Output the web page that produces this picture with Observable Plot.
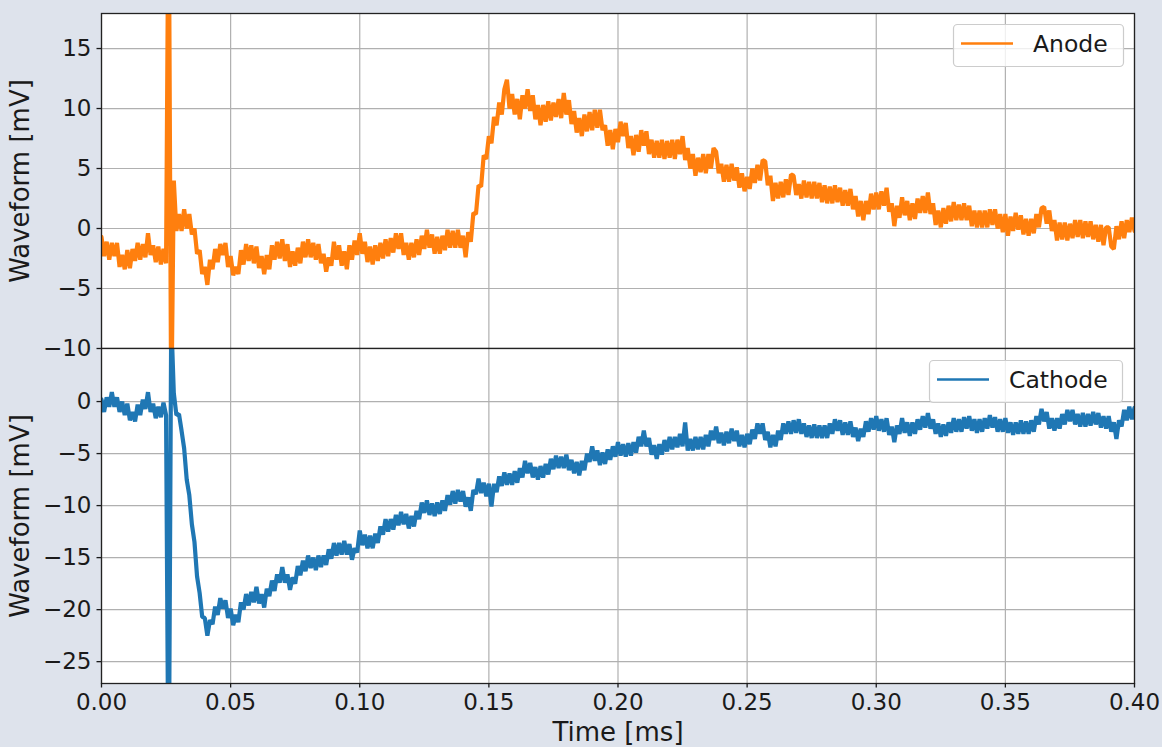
<!DOCTYPE html>
<html>
<head>
<meta charset="utf-8">
<script src="https://cdn.jsdelivr.net/npm/d3@7"></script>
<script src="https://cdn.jsdelivr.net/npm/@observablehq/plot@0.6"></script>
<style>
  html, body { margin: 0; padding: 0; background: #dee3ec; }
  #fig { position: relative; width: 1162px; height: 747px; background: #dee3ec; overflow: hidden; font-family: "DejaVu Sans", sans-serif; }
  #fig > svg { position: absolute; left: 0; }
  g[aria-label="y-axis label"] text, g[aria-label="x-axis label"] text { font-size: 26px; }
</style>
</head>
<body>
<div id="fig"></div>
<script>
// sample step (ms)
const dt = 0.001;

// Anode waveform (mV), one value per 0.001 ms from 0.000 to 0.400
const anode = [
  -0.7,-2.3,-1.1,-2.6,-1.2,-2.3,-1.2,-3.2,-2.2,-3.4,
  -1.8,-3.3,-1.7,-2.7,-1.2,-2.6,-1.3,-2.4,-0.4,-2.2,
  -1.4,-2.8,-1.5,-3.0,-1.7,-2.9,30,-16,4,-0.2,
  1.2,-0.2,1.6,0.0,1.2,-0.5,0.0,-2.1,-1.8,-3.8,
  -3.2,-4.7,-2.6,-3.4,-1.7,-2.8,-1.3,-2.2,-1.2,-3.2,
  -2.3,-3.9,-3.2,-3.8,-1.8,-3.0,-1.3,-2.7,-1.4,-2.9,
  -1.5,-3.3,-2.3,-3.8,-2.2,-3.4,-1.4,-2.6,-1.1,-2.5,
  -0.9,-2.7,-1.3,-3.2,-1.9,-3.1,-1.6,-2.9,-1.1,-2.4,
  -0.9,-2.4,-1.2,-2.6,-1.3,-2.9,-2.1,-3.6,-2.4,-3.1,
  -1.1,-2.6,-1.4,-3.1,-1.9,-3.4,-1.4,-2.6,-1.0,-2.2,
  -0.4,-2.1,-1.1,-2.8,-1.5,-3.0,-1.4,-2.7,-1.2,-2.5,
  -0.9,-2.3,-0.8,-2.0,-0.4,-1.7,-0.4,-2.2,-1.2,-2.6,
  -1.2,-2.4,-0.9,-2.2,-0.6,-1.7,-0.1,-1.6,-0.5,-2.1,
  -0.7,-2.1,-0.6,-1.8,-0.1,-1.6,-0.2,-1.6,-0.1,-1.6,
  -0.6,-2.4,-0.3,-1.1,1.3,1.2,3.6,3.5,6.1,5.8,
  7.7,7.1,9.3,8.6,10.5,9.5,11.6,12.4,10.0,11.2,
  9.5,10.8,9.1,11.1,10.0,11.6,9.8,11.1,9.1,10.3,
  8.6,10.3,8.9,10.6,9.0,10.5,9.3,10.8,9.2,11.3,
  9.5,10.7,8.7,9.8,8.0,9.2,7.7,9.5,8.1,9.7,
  8.2,9.9,8.4,9.9,8.2,8.6,6.9,8.2,6.6,8.3,
  7.2,8.9,7.7,8.8,6.7,7.7,6.1,7.8,6.4,8.2,
  6.9,8.1,6.2,7.4,5.9,7.3,5.9,7.4,5.8,7.3,
  5.9,7.4,5.8,7.4,6.2,7.7,5.7,6.7,5.0,6.2,
  4.4,5.9,4.7,6.2,4.6,6.2,5.0,6.7,6.4,4.6,
  5.4,3.9,5.3,3.9,5.4,4.0,5.1,3.4,4.6,3.1,
  4.3,3.3,5.0,3.8,5.3,4.0,5.7,5.6,3.6,4.4,
  2.3,3.8,2.5,3.9,2.6,4.1,2.8,4.5,4.4,2.8,
  3.7,2.5,4.0,2.6,3.9,2.5,3.9,2.5,3.8,2.2,
  3.6,2.1,3.5,2.1,3.6,2.2,3.4,1.9,3.2,1.9,
  3.3,1.6,2.7,1.0,2.3,0.7,2.3,1.2,2.9,1.6,
  3.0,1.6,3.1,1.9,3.4,1.4,2.1,0.2,1.9,0.9,
  2.6,1.1,2.3,0.7,2.1,0.8,2.5,1.3,2.7,1.3,
  3.0,1.2,2.1,0.3,1.5,0.1,1.7,0.4,1.9,0.6,
  2.2,0.7,2.0,0.7,2.1,0.7,1.9,0.2,1.5,0.1,
  1.5,0.1,1.5,0.1,1.6,0.3,1.6,0.0,1.2,-0.3,
  1.2,-0.6,1.0,-0.2,1.3,-0.1,1.1,-0.5,0.8,-0.6,
  0.8,-0.4,1.2,0.1,1.7,1.8,0.4,1.5,-0.2,0.7,
  -1.0,0.5,-0.9,0.5,-1.0,0.4,-0.8,0.7,-0.7,0.7,
  -0.8,0.6,-0.7,0.6,-0.9,0.3,-1.1,0.3,-1.4,0.1,
  0.1,-1.5,-1.7,0.2,-0.9,0.6,-0.8,0.7,-0.3,0.9,
  -0.2
];

// Cathode waveform (mV), same sampling
const cathode = [
  0.2,-1.0,0.4,-0.5,0.9,-0.5,0.4,-1.0,0.0,-1.3,
  -0.2,-1.8,-1.0,-1.9,-0.3,-1.3,0.2,-0.7,0.9,-1.0,
  -0.2,-1.6,-0.5,-1.5,-0.1,-1.3,-40,8,0.8,-1.3,
  -1.2,-2.8,-4.5,-7.5,-9.0,-11.8,-13.5,-16.8,-18.4,-20.7,
  -20.8,-22.5,-21.0,-21.4,-19.7,-20.5,-18.9,-19.9,-19.1,-20.8,
  -19.9,-21.5,-20.5,-21.2,-19.3,-20.0,-18.5,-19.6,-18.3,-19.3,
  -17.8,-19.4,-18.5,-19.8,-18.0,-18.7,-17.2,-18.2,-16.6,-17.4,
  -15.9,-17.4,-16.6,-18.1,-16.9,-17.5,-15.8,-16.7,-15.3,-16.3,
  -14.8,-16.0,-15.0,-16.2,-14.8,-15.9,-14.8,-15.7,-14.2,-15.1,
  -13.6,-14.8,-13.6,-14.7,-13.4,-14.7,-13.7,-15.2,-14.1,-14.5,
  -12.4,-13.8,-12.8,-14.1,-12.9,-14.1,-12.7,-13.6,-12.0,-12.8,
  -11.3,-12.5,-11.3,-12.3,-10.9,-11.9,-10.6,-11.8,-10.8,-12.2,
  -11.0,-12.0,-10.5,-11.3,-9.7,-10.7,-9.5,-10.9,-9.8,-11.0,
  -9.7,-10.8,-9.5,-10.5,-9.0,-9.9,-8.6,-9.8,-8.5,-9.6,
  -8.6,-10.1,-9.2,-10.5,-8.5,-8.9,-7.4,-8.8,-7.8,-9.1,
  -7.9,-10.1,-7.9,-8.7,-7.2,-8.1,-6.8,-8.0,-6.9,-8.0,
  -6.7,-7.8,-6.4,-7.3,-5.7,-6.9,-5.9,-7.3,-6.3,-7.5,
  -6.2,-7.3,-6.0,-7.0,-5.5,-6.5,-5.2,-6.4,-5.3,-6.4,
  -5.1,-6.6,-5.6,-6.9,-5.8,-7.1,-5.7,-6.6,-5.0,-5.8,
  -4.3,-5.7,-4.7,-6.1,-4.9,-6.0,-4.6,-5.6,-4.3,-5.3,
  -3.9,-5.2,-4.1,-5.3,-4.0,-5.2,-3.9,-4.9,-3.4,-4.3,
  -2.8,-4.3,-3.5,-5.1,-4.2,-5.5,-4.1,-5.1,-3.7,-4.8,
  -3.4,-4.6,-3.4,-4.4,-3.1,-4.3,-2.0,-4.7,-3.6,-4.7,
  -3.4,-4.6,-3.4,-4.6,-3.2,-4.3,-2.8,-3.7,-2.4,-4.0,
  -3.0,-4.2,-2.9,-4.0,-2.6,-3.8,-2.8,-4.3,-3.2,-4.4,
  -3.1,-4.1,-2.7,-3.6,-2.1,-3.1,-2.1,-3.7,-2.9,-4.4,
  -3.2,-4.3,-2.8,-3.7,-2.1,-3.1,-1.9,-3.1,-1.8,-3.0,
  -1.7,-3.1,-2.1,-3.4,-2.3,-3.5,-2.2,-3.5,-2.3,-3.5,
  -2.3,-3.5,-2.1,-3.1,-1.7,-2.8,-1.8,-3.2,-2.0,-3.2,
  -1.9,-3.4,-2.5,-3.8,-2.6,-3.4,-1.9,-2.9,-1.6,-2.7,
  -1.4,-2.8,-1.7,-2.9,-1.6,-3.2,-2.4,-3.9,-2.3,-3.1,
  -1.6,-3.0,-2.0,-3.3,-2.0,-3.1,-1.7,-2.7,-1.4,-2.5,
  -1.1,-2.6,-1.7,-3.1,-2.1,-3.4,-2.2,-3.3,-2.0,-3.0,
  -1.6,-2.9,-1.7,-2.9,-1.5,-2.6,-1.4,-2.8,-1.7,-3.0,
  -1.7,-2.9,-1.6,-2.6,-1.3,-2.5,-1.5,-2.9,-1.7,-2.9,
  -1.6,-3.0,-2.0,-3.2,-2.0,-3.1,-1.8,-3.1,-1.9,-3.1,
  -1.8,-2.9,-1.4,-2.2,-0.7,-1.9,-1.0,-2.6,-1.6,-2.8,
  -1.6,-2.6,-1.2,-2.2,-0.8,-1.9,-0.8,-2.2,-1.2,-2.4,
  -1.1,-2.4,-1.2,-2.3,-1.0,-2.2,-1.1,-2.5,-1.4,-2.6,
  -1.4,-2.9,-2.0,-3.6,-1.8,-2.4,-0.8,-1.8,-0.5,-1.7,
  -0.6
];

const xTicks = [0, 0.05, 0.10, 0.15, 0.20, 0.25, 0.30, 0.35, 0.40];
const anodeTicks = [-10, -5, 0, 5, 10, 15];
const cathodeTicks = [0, -5, -10, -15, -20, -25];
const xDomain = [0, 0.40];
const anodeDomain = [-10, 17.92];
const cathodeDomain = [-27.1, 5.1];
const seriesNames = ["Anode", "Cathode"];
const seriesColors = ["#ff7f0e", "#1f77b4"];
const xLabel = "Time [ms]";
const yLabel = "Waveform [mV]";

const fmtY = d => (d < 0 ? "\u2212" : "") + Math.abs(d);
const fmtX = d3.format(".2f");

const toRows = arr => arr.map((v, i) => ({t: i * dt, v}));

const commonStyle = {
  background: "transparent",
  fontFamily: "DejaVu Sans",
  fontSize: "23px",
  color: "#1a1a1a",
  overflow: "visible"
};
const gridStyle = {stroke: "#b0b0b0", strokeOpacity: 1, strokeWidth: 1.2};
const traceWidth = 4.2;

const fig = document.getElementById("fig");

// Top panel: Anode
const topPlot = Plot.plot({
  width: 1162, height: 348,
  marginLeft: 101, marginRight: 28, marginTop: 13, marginBottom: 0,
  style: commonStyle,
  x: {domain: xDomain, axis: null},
  y: {domain: anodeDomain},
  marks: [
    Plot.frame({fill: "white", stroke: null}),
    Plot.gridX(xTicks, gridStyle),
    Plot.gridY(anodeTicks, gridStyle),
    Plot.lineY(toRows(anode), {x: "t", y: "v", stroke: seriesColors[0], strokeWidth: traceWidth, strokeLinejoin: "miter", clip: true}),
    Plot.frame({stroke: "#222", strokeWidth: 1.3}),
    Plot.axisY(anodeTicks, {
      tickSize: 4.5, tickPadding: 5.5, tickFormat: fmtY, fontSize: 23, strokeWidth: 1.3,
      label: yLabel, labelAnchor: "center", labelOffset: 91, labelArrow: "none"
    })
  ]
});
topPlot.style.top = "0px";
fig.appendChild(topPlot);

// Bottom panel: Cathode
const botPlot = Plot.plot({
  width: 1162, height: 399,
  marginLeft: 101, marginRight: 28, marginTop: 0, marginBottom: 64,
  style: commonStyle,
  x: {domain: xDomain},
  y: {domain: cathodeDomain},
  marks: [
    Plot.frame({fill: "white", stroke: null}),
    Plot.gridX(xTicks, gridStyle),
    Plot.gridY(cathodeTicks, gridStyle),
    Plot.lineY(toRows(cathode), {x: "t", y: "v", stroke: seriesColors[1], strokeWidth: traceWidth, strokeLinejoin: "miter", clip: true}),
    Plot.frame({stroke: "#222", strokeWidth: 1.3}),
    Plot.axisY(cathodeTicks, {
      tickSize: 4.5, tickPadding: 5.5, tickFormat: fmtY, fontSize: 23, strokeWidth: 1.3,
      label: yLabel, labelAnchor: "center", labelOffset: 91, labelArrow: "none"
    }),
    Plot.axisX(xTicks, {
      tickSize: 4.5, tickPadding: 6, tickFormat: fmtX, fontSize: 23, strokeWidth: 1.3,
      label: xLabel, labelAnchor: "center", labelOffset: 57, labelArrow: "none"
    })
  ]
});
botPlot.style.top = "348px";
fig.appendChild(botPlot);

// Legends (one per panel, upper right)
const legendLayout = [
  {x: 953, y: 24, w: 170, h: 42},
  {x: 929, y: 360, w: 193, h: 42}
];
const leg = d3.create("svg")
  .attr("width", 1162).attr("height", 747)
  .style("top", "0px").style("pointer-events", "none")
  .style("font-family", "DejaVu Sans");
seriesNames.forEach((name, i) => {
  const L = legendLayout[i];
  const g = leg.append("g");
  g.append("rect").attr("x", L.x + 0.5).attr("y", L.y + 0.5).attr("width", L.w).attr("height", L.h)
    .attr("rx", 4).attr("fill", "white").attr("fill-opacity", 0.8).attr("stroke", "#cccccc").attr("stroke-width", 1.2);
  g.append("line").attr("x1", L.x + 8).attr("x2", L.x + 60).attr("y1", L.y + 19.5).attr("y2", L.y + 19.5)
    .attr("stroke", seriesColors[i]).attr("stroke-width", 2.6);
  g.append("text").attr("x", L.x + 80).attr("y", L.y + 28.3).attr("font-size", 23.5).attr("fill", "#1a1a1a").text(name);
});
fig.appendChild(leg.node());
</script>
</body>
</html>
